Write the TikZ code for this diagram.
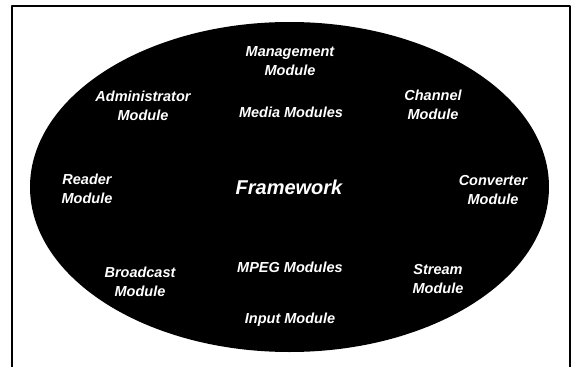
\documentclass[tikz,border=0pt]{standalone}
\usepackage{fontspec}
\setmainfont{Liberation Sans}
\tikzset{modlabel/.style={text=white,align=center,font=\bfseries\itshape\fontsize{14.5}{19}\selectfont,inner sep=0pt}}

\begin{document}
\begin{tikzpicture}[line cap=round,line join=round,x=1.0pt,y=-1.0pt]
		\useasboundingbox (0,0) rectangle (571,367);
		\draw [line width=1.8pt,line cap=butt] (12,368)-- (12,6)-- (570,6)-- (570,368);
		\fill [black] (289.5,187) ellipse (259.5 and 165);
		\node[modlabel] (mgmt) at (290,61) {Management\\Module};
		\node[modlabel] (admin) at (143,106) {Administrator\\Module};
		\node[modlabel] (channel) at (433,105) {Channel\\Module};
		\node[modlabel] (media) at (291,112) {Media Modules};
		\node[modlabel] (reader) at (87,189) {Reader\\Module};
		\node[modlabel,font=\bfseries\itshape\fontsize{20}{24}\selectfont] (frmwk) at (289,187) {Framework};
		\node[modlabel] (converter) at (493,190) {Converter\\Module};
		\node[modlabel] (broadcast) at (140,282) {Broadcast\\Module};
		\node[modlabel] (mpeg) at (290,267) {MPEG Modules};
		\node[modlabel] (stream) at (438,279) {Stream\\Module};
		\node[modlabel] (input) at (290,320) {Input Module};
	\end{tikzpicture}
\end{document}
